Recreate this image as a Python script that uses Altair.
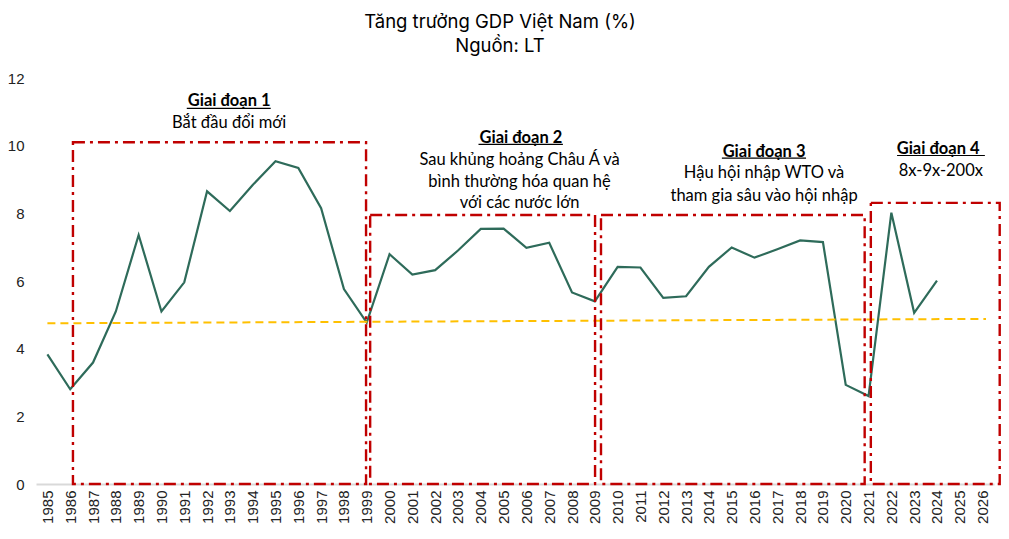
import altair as alt
import pandas as pd

# ---- data ----
years = list(range(1985, 2025))
gdp = [3.83, 2.80, 3.59, 5.10, 7.36, 5.10, 5.96, 8.65, 8.07, 8.84,
       9.54, 9.34, 8.15, 5.76, 4.77, 6.79, 6.19, 6.32, 6.90, 7.54,
       7.55, 6.98, 7.13, 5.66, 5.40, 6.42, 6.40, 5.50, 5.55, 6.42,
       6.99, 6.69, 6.94, 7.20, 7.15, 2.93, 2.60, 8.02, 5.06, 6.01]

tick_years = list(range(1985, 2027))
y_ticks = [0, 2, 4, 6, 8, 10, 12]

trend_x = [1985, 2026.15]
trend_y = [4.75, 4.88]

# phase boxes (in data units)
box_x0 = [1986.12, 1999.15, 2009.27, 2021.10]
box_x1 = [1998.97, 2009.01, 2020.83, 2026.75]
box_top = [10.10, 7.95, 7.95, 8.31]

# phase headings
head_text = ["Giai đoạn 1", "Giai đoạn 2", "Giai đoạn 3", "Giai đoạn 4"]
head_x = [1992.97, 2005.76, 2016.42, 2024.05]
head_y = [11.33, 10.23, 9.82, 9.89]
ul_x0 = [1991.11, 2003.90, 2014.57, 2022.25]
ul_x1 = [1994.79, 2007.60, 2018.26, 2026.10]
ul_y = [11.10, 10.04, 9.63, 9.71]

# phase descriptions
desc_text = ["Bắt đầu đổi mới",
             "Sau khủng hoảng Châu Á và", "bình thường hóa quan hệ", "với các nước lớn",
             "Hậu hội nhập WTO và", "tham gia sâu vào hội nhập",
             "8x-9x-200x"]
desc_x = [1992.97, 2005.70, 2005.70, 2005.70, 2016.42, 2016.42, 2024.17]
desc_y = [10.68, 9.58, 8.93, 8.31, 9.18, 8.51, 9.26]

# ---- tables ----
df = pd.DataFrame({"year": years, "gdp": gdp})
trend = pd.DataFrame({"year": trend_x, "v": trend_y})
boxes = pd.DataFrame({"x0": box_x0, "x1": box_x1, "top": box_top, "bot": [0] * 4})
heads = pd.DataFrame({"x": head_x, "y": head_y, "t": head_text})
uls = pd.DataFrame({"x0": ul_x0, "x1": ul_x1, "y": ul_y})
descs = pd.DataFrame({"x": desc_x, "y": desc_y, "t": desc_text})

xscale = alt.Scale(domain=[1984.5, 2026.5], nice=False, zero=False)
yscale = alt.Scale(domain=[0, 12], nice=False)

xaxis = alt.Axis(values=tick_years, format="d", labelAngle=270, labelAlign="right",
                 labelBaseline="middle", ticks=False, grid=False, domainColor="#D9D9D9",
                 domainWidth=2, labelFont="Liberation Sans", labelFontSize=15,
                 labelColor="#222222", labelPadding=6, title=None, labelOverlap=False,
                 labelFlush=False)
yaxis = alt.Axis(values=y_ticks, ticks=False, grid=False, domain=False,
                 labelFont="Liberation Sans", labelFontSize=15, labelColor="#222222",
                 labelPadding=12, title=None)

X = lambda f: alt.X(f, type="quantitative", scale=xscale, axis=xaxis)
Y = lambda f: alt.Y(f, type="quantitative", scale=yscale, axis=yaxis)

box_layer = alt.Chart(boxes).mark_rect(
    filled=False, stroke="#C00000", strokeWidth=2.4, strokeDash=[12, 5, 3, 5]
).encode(x=X("x0"), x2="x1", y=Y("bot"), y2="top")

trend_layer = alt.Chart(trend).mark_line(
    color="#FFC000", strokeWidth=2, strokeDash=[8, 5]
).encode(x=X("year"), y=Y("v"))

line_layer = alt.Chart(df).mark_line(
    color="#2E6B5A", strokeWidth=2.2
).encode(x=X("year"), y=Y("gdp"))

head_layer = alt.Chart(heads).mark_text(
    font="Lato", fontSize=16.5, fontWeight="bold", color="#000000", baseline="middle"
).encode(x=X("x"), y=Y("y"), text="t")

ul_layer = alt.Chart(uls).mark_rule(color="#000000", strokeWidth=1.2).encode(
    x=X("x0"), x2="x1", y=Y("y"))

desc_layer = alt.Chart(descs).mark_text(
    font="Lato", fontSize=16.5, color="#000000", baseline="middle"
).encode(x=X("x"), y=Y("y"), text="t")

chart = alt.layer(
    line_layer, trend_layer, box_layer, head_layer, ul_layer, desc_layer
).properties(
    width=958, height=406,
    padding={"left": 28, "top": 70, "right": 7, "bottom": 45},
    autosize=alt.AutoSizeParams(type="none"),
    title=alt.TitleParams(
        text=["Tăng trưởng GDP Việt Nam (%)", "Nguồn: LT"],
        font="Inter", fontSize=18.5, fontWeight="normal", color="#000000",
        lineHeight=24, anchor="middle", offset=16, dx=-15
    ),
).configure_view(stroke=None)

chart.save("out.html", embed_options={"renderer": "svg", "actions": False})
